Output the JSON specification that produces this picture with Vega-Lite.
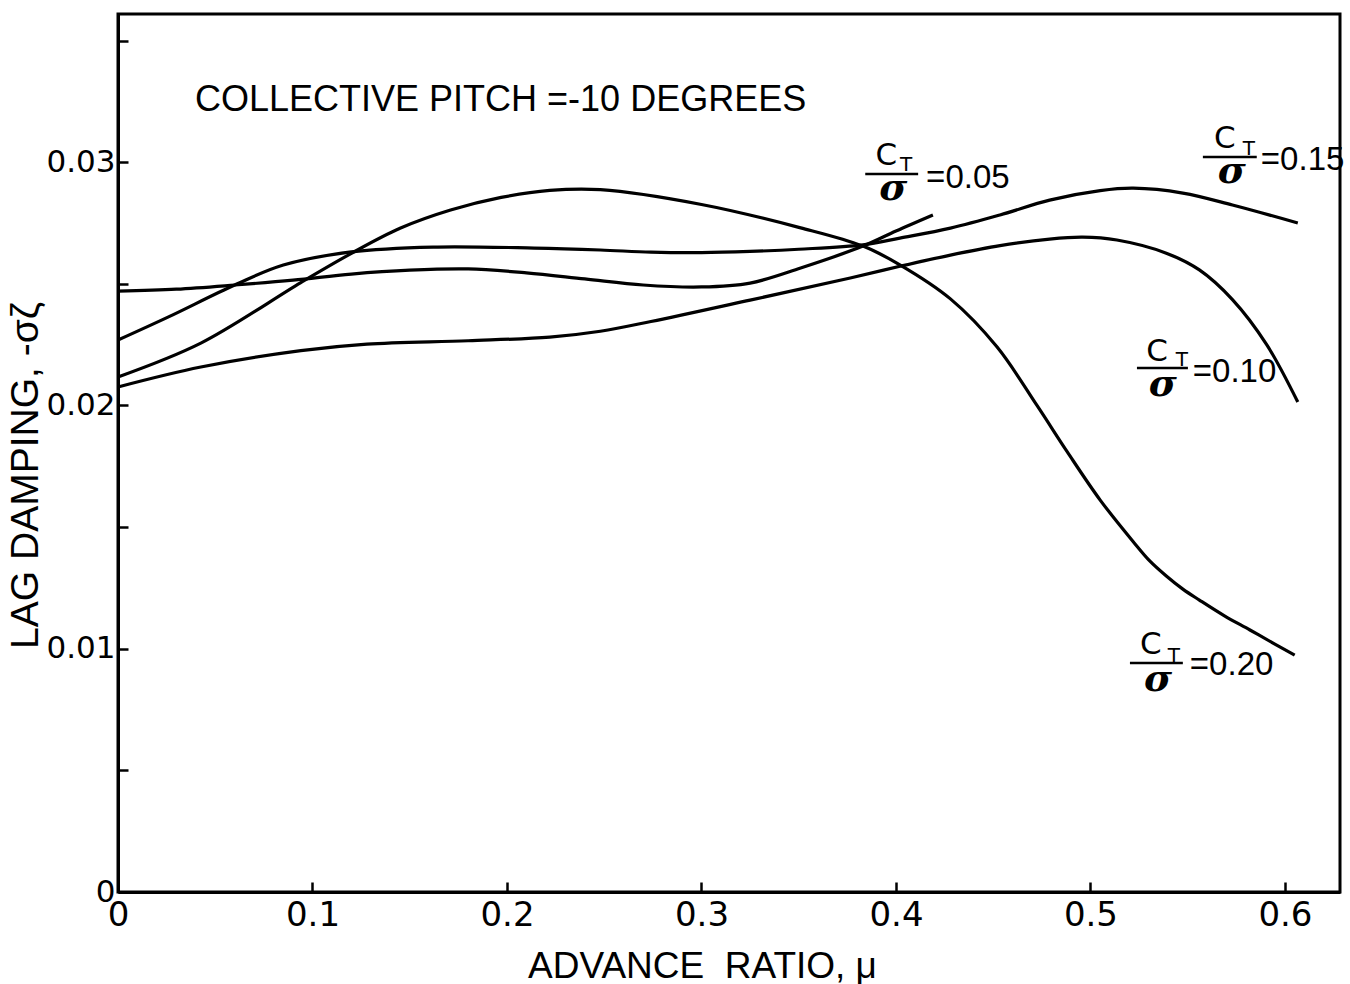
{
  "$schema": "https://vega.github.io/schema/vega-lite/v6.json",
  "width": 1222,
  "height": 878,
  "autosize": "none",
  "padding": {"left": 118, "top": 14, "right": 10, "bottom": 92},
  "background": "white",
  "config": {
    "view": {"stroke": "black", "strokeWidth": 3},
    "axis": {"grid": false, "domainColor": "black", "domainWidth": 3, "tickColor": "black", "tickWidth": 2.5, "labelColor": "black", "titleColor": "black", "labelOverlap": false, "labelFlush": false, "labelBound": false}
  },
  "datasets": {
    "curves": [
      {"ct": "0.05", "mu": 0, "damping": 0.0247},
      {"ct": "0.05", "mu": 0.03, "damping": 0.02478},
      {"ct": "0.05", "mu": 0.06, "damping": 0.02495},
      {"ct": "0.05", "mu": 0.09, "damping": 0.02515},
      {"ct": "0.05", "mu": 0.12, "damping": 0.0254},
      {"ct": "0.05", "mu": 0.15, "damping": 0.02556},
      {"ct": "0.05", "mu": 0.18, "damping": 0.02561},
      {"ct": "0.05", "mu": 0.21, "damping": 0.02545},
      {"ct": "0.05", "mu": 0.24, "damping": 0.0252},
      {"ct": "0.05", "mu": 0.27, "damping": 0.02495},
      {"ct": "0.05", "mu": 0.3, "damping": 0.02487},
      {"ct": "0.05", "mu": 0.325, "damping": 0.02503},
      {"ct": "0.05", "mu": 0.351, "damping": 0.02565},
      {"ct": "0.05", "mu": 0.383, "damping": 0.02655},
      {"ct": "0.05", "mu": 0.4, "damping": 0.02717},
      {"ct": "0.05", "mu": 0.419, "damping": 0.02783},

      {"ct": "0.15", "mu": 0, "damping": 0.02269},
      {"ct": "0.15", "mu": 0.0257, "damping": 0.02363},
      {"ct": "0.15", "mu": 0.06, "damping": 0.02495},
      {"ct": "0.15", "mu": 0.085, "damping": 0.02577},
      {"ct": "0.15", "mu": 0.12, "damping": 0.02631},
      {"ct": "0.15", "mu": 0.162, "damping": 0.02651},
      {"ct": "0.15", "mu": 0.214, "damping": 0.02647},
      {"ct": "0.15", "mu": 0.248, "damping": 0.02639},
      {"ct": "0.15", "mu": 0.274, "damping": 0.02630},
      {"ct": "0.15", "mu": 0.3, "damping": 0.02628},
      {"ct": "0.15", "mu": 0.325, "damping": 0.02633},
      {"ct": "0.15", "mu": 0.35, "damping": 0.02642},
      {"ct": "0.15", "mu": 0.383, "damping": 0.02660},
      {"ct": "0.15", "mu": 0.402, "damping": 0.02688},
      {"ct": "0.15", "mu": 0.428, "damping": 0.02729},
      {"ct": "0.15", "mu": 0.4535, "damping": 0.02783},
      {"ct": "0.15", "mu": 0.479, "damping": 0.02844},
      {"ct": "0.15", "mu": 0.505, "damping": 0.02883},
      {"ct": "0.15", "mu": 0.522, "damping": 0.02893},
      {"ct": "0.15", "mu": 0.5475, "damping": 0.02873},
      {"ct": "0.15", "mu": 0.573, "damping": 0.02824},
      {"ct": "0.15", "mu": 0.6066, "damping": 0.0275},

      {"ct": "0.10", "mu": 0, "damping": 0.02076},
      {"ct": "0.10", "mu": 0.0426, "damping": 0.02158},
      {"ct": "0.10", "mu": 0.094, "damping": 0.02225},
      {"ct": "0.10", "mu": 0.128, "damping": 0.02252},
      {"ct": "0.10", "mu": 0.18, "damping": 0.02266},
      {"ct": "0.10", "mu": 0.222, "damping": 0.02281},
      {"ct": "0.10", "mu": 0.248, "damping": 0.02305},
      {"ct": "0.10", "mu": 0.274, "damping": 0.02345},
      {"ct": "0.10", "mu": 0.325, "damping": 0.02433},
      {"ct": "0.10", "mu": 0.3765, "damping": 0.02524},
      {"ct": "0.10", "mu": 0.402, "damping": 0.02572},
      {"ct": "0.10", "mu": 0.428, "damping": 0.02618},
      {"ct": "0.10", "mu": 0.4535, "damping": 0.02657},
      {"ct": "0.10", "mu": 0.479, "damping": 0.02684},
      {"ct": "0.10", "mu": 0.496, "damping": 0.02692},
      {"ct": "0.10", "mu": 0.5136, "damping": 0.0268},
      {"ct": "0.10", "mu": 0.539, "damping": 0.02626},
      {"ct": "0.10", "mu": 0.556, "damping": 0.02557},
      {"ct": "0.10", "mu": 0.573, "damping": 0.02435},
      {"ct": "0.10", "mu": 0.5906, "damping": 0.0225},
      {"ct": "0.10", "mu": 0.6066, "damping": 0.02014},

      {"ct": "0.20", "mu": 0, "damping": 0.02117},
      {"ct": "0.20", "mu": 0.0426, "damping": 0.02256},
      {"ct": "0.20", "mu": 0.094, "damping": 0.02505},
      {"ct": "0.20", "mu": 0.12, "damping": 0.02625},
      {"ct": "0.20", "mu": 0.145, "damping": 0.02728},
      {"ct": "0.20", "mu": 0.171, "damping": 0.02803},
      {"ct": "0.20", "mu": 0.197, "damping": 0.02855},
      {"ct": "0.20", "mu": 0.222, "damping": 0.02884},
      {"ct": "0.20", "mu": 0.248, "damping": 0.02887},
      {"ct": "0.20", "mu": 0.3, "damping": 0.02826},
      {"ct": "0.20", "mu": 0.351, "damping": 0.02730},
      {"ct": "0.20", "mu": 0.383, "damping": 0.02655},
      {"ct": "0.20", "mu": 0.402, "damping": 0.02578},
      {"ct": "0.20", "mu": 0.428, "damping": 0.02438},
      {"ct": "0.20", "mu": 0.452, "damping": 0.02240},
      {"ct": "0.20", "mu": 0.4725, "damping": 0.02000},
      {"ct": "0.20", "mu": 0.488, "damping": 0.01810},
      {"ct": "0.20", "mu": 0.505, "damping": 0.01611},
      {"ct": "0.20", "mu": 0.522, "damping": 0.01440},
      {"ct": "0.20", "mu": 0.5306, "damping": 0.0136},
      {"ct": "0.20", "mu": 0.539, "damping": 0.01299},
      {"ct": "0.20", "mu": 0.5475, "damping": 0.01245},
      {"ct": "0.20", "mu": 0.556, "damping": 0.012},
      {"ct": "0.20", "mu": 0.5691, "damping": 0.01134},
      {"ct": "0.20", "mu": 0.582, "damping": 0.01077},
      {"ct": "0.20", "mu": 0.5948, "damping": 0.01019},
      {"ct": "0.20", "mu": 0.605, "damping": 0.00974}
    ],
    "bars": [
      {"ct": "0.05", "mu": 0.3842, "mu2": 0.4114, "damping": 0.02951},
      {"ct": "0.15", "mu": 0.5578, "mu2": 0.5855, "damping": 0.03021},
      {"ct": "0.10", "mu": 0.5239, "mu2": 0.5501, "damping": 0.02154},
      {"ct": "0.20", "mu": 0.5203, "mu2": 0.5475, "damping": 0.00941}
    ],
    "labels": [
      {"part": "C", "mu": 0.395, "damping": 0.03025, "text": "C"},
      {"part": "T", "mu": 0.4052, "damping": 0.02988, "text": "T"},
      {"part": "s", "mu": 0.3986, "damping": 0.02889, "text": "σ"},
      {"part": "v", "mu": 0.4155, "damping": 0.02935, "text": "=0.05"},
      {"part": "C", "mu": 0.5691, "damping": 0.03095, "text": "C"},
      {"part": "T", "mu": 0.5814, "damping": 0.03054, "text": "T"},
      {"part": "s", "mu": 0.5727, "damping": 0.02959, "text": "σ"},
      {"part": "v", "mu": 0.5876, "damping": 0.03009, "text": "=0.15"},
      {"part": "C", "mu": 0.5342, "damping": 0.02219, "text": "C"},
      {"part": "T", "mu": 0.547, "damping": 0.02186, "text": "T"},
      {"part": "s", "mu": 0.5372, "damping": 0.02084, "text": "σ"},
      {"part": "v", "mu": 0.5526, "damping": 0.02137, "text": "=0.10"},
      {"part": "C", "mu": 0.5311, "damping": 0.01015, "text": "C"},
      {"part": "T", "mu": 0.5429, "damping": 0.0097, "text": "T"},
      {"part": "s", "mu": 0.5347, "damping": 0.00871, "text": "σ"},
      {"part": "v", "mu": 0.5511, "damping": 0.00933, "text": "=0.20"},
      {"part": "title", "mu": 0.0396, "damping": 0.03255, "text": "COLLECTIVE PITCH =-10 DEGREES"}
    ]
  },
  "encoding": {
    "x": {
      "field": "mu", "type": "quantitative",
      "scale": {"domain": [0, 0.6283], "nice": false, "zero": false},
      "axis": {
        "values": [0, 0.1, 0.2, 0.3, 0.4, 0.5, 0.6],
        "labelExpr": "datum.value === 0 ? '0' : format(datum.value, '.1f')",
        "tickSize": -10, "labelPadding": 16,
        "labelFont": "DejaVu Sans", "labelFontSize": 34,
        "title": "ADVANCE\u00a0\u00a0RATIO, μ",
        "titleFont": "Liberation Sans", "titleFontSize": 37, "titleFontWeight": "normal",
        "titleX": 584, "titleY": 85, "titleAlign": "center", "titleBaseline": "alphabetic"
      }
    },
    "y": {
      "field": "damping", "type": "quantitative",
      "scale": {"domain": [0, 0.03609], "nice": false, "zero": false},
      "axis": {
        "values": [0, 0.005, 0.01, 0.015, 0.02, 0.025, 0.03, 0.035],
        "labelExpr": "datum.value === 0 ? '0' : (abs(datum.value * 100 - round(datum.value * 100)) < 0.000001 ? format(datum.value, '.2f') : '')",
        "tickSize": -10, "labelPadding": 13,
        "labelFont": "DejaVu Sans", "labelFontSize": 31,
        "title": "LAG DAMPING, -σζ",
        "titleFont": "Liberation Sans", "titleFontSize": 39, "titleFontWeight": "normal",
        "titleX": -93, "titleY": 461, "titleAngle": 270, "titleAlign": "center", "titleBaseline": "middle"
      }
    }
  },
  "layer": [
    {
      "data": {"name": "curves"},
      "mark": {"type": "line", "interpolate": "catmull-rom", "color": "black", "strokeWidth": 3.2},
      "encoding": {"detail": {"field": "ct", "type": "nominal"}}
    },
    {
      "data": {"name": "bars"},
      "mark": {"type": "rule", "color": "black", "strokeWidth": 2.5},
      "encoding": {"x2": {"field": "mu2"}}
    },
    {
      "data": {"name": "labels"},
      "transform": [{"filter": "datum.part === 'C'"}],
      "mark": {"type": "text", "font": "DejaVu Sans", "fontSize": 31, "align": "center", "baseline": "middle", "color": "black"},
      "encoding": {"text": {"field": "text"}}
    },
    {
      "data": {"name": "labels"},
      "transform": [{"filter": "datum.part === 'T'"}],
      "mark": {"type": "text", "font": "DejaVu Sans", "fontSize": 20, "align": "center", "baseline": "middle", "color": "black"},
      "encoding": {"text": {"field": "text"}}
    },
    {
      "data": {"name": "labels"},
      "transform": [{"filter": "datum.part === 's'"}],
      "mark": {"type": "text", "font": "DejaVu Serif", "fontSize": 38, "fontWeight": "bold", "fontStyle": "italic", "align": "center", "baseline": "middle", "color": "black"},
      "encoding": {"text": {"field": "text"}}
    },
    {
      "data": {"name": "labels"},
      "transform": [{"filter": "datum.part === 'v'"}],
      "mark": {"type": "text", "font": "Liberation Sans", "fontSize": 33, "align": "left", "baseline": "middle", "color": "black"},
      "encoding": {"text": {"field": "text"}}
    },
    {
      "data": {"name": "labels"},
      "transform": [{"filter": "datum.part === 'title'"}],
      "mark": {"type": "text", "font": "Liberation Sans", "fontSize": 36, "align": "left", "baseline": "middle", "color": "black"},
      "encoding": {"text": {"field": "text"}}
    }
  ]
}
